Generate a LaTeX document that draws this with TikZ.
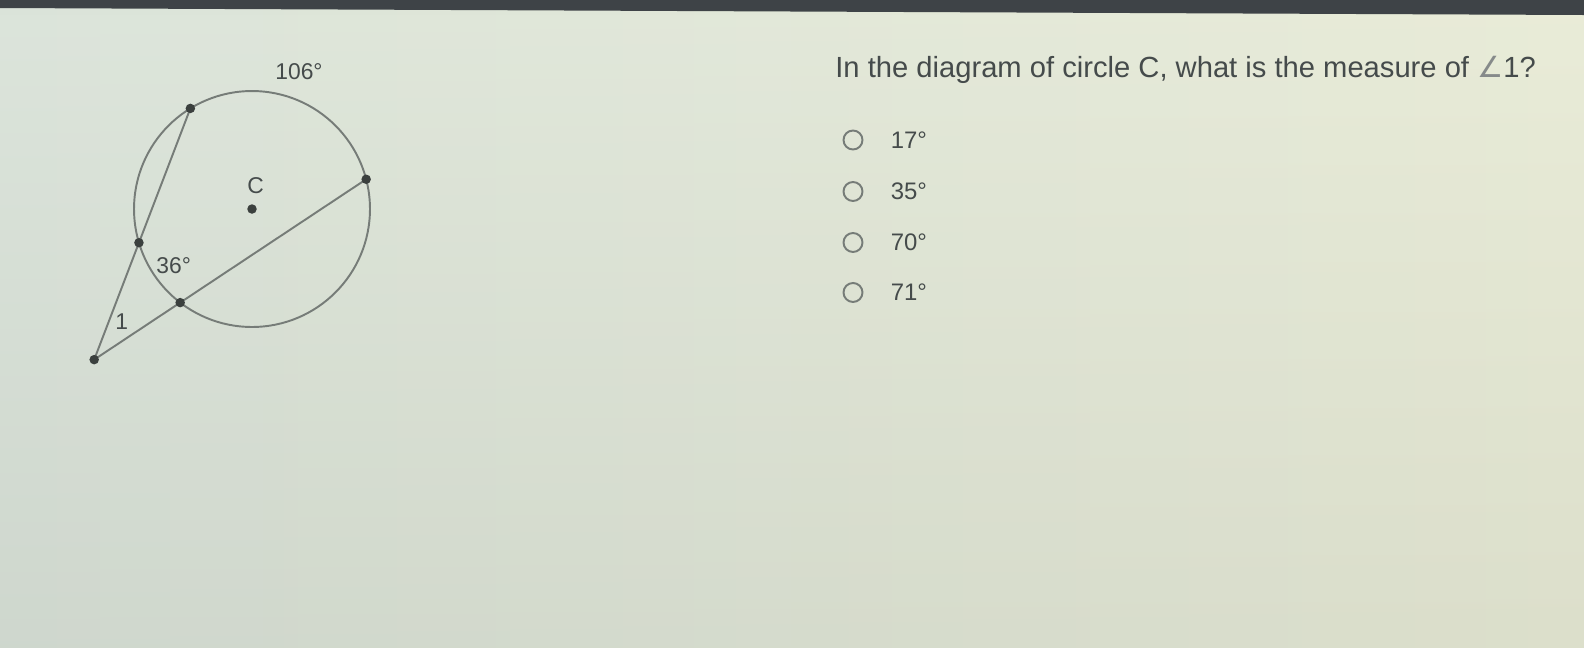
\documentclass[tikz,border=0pt]{standalone}
\usepackage{fontspec}
\setmainfont{Liberation Sans}
\newfontfamily\anglefont{DejaVu Sans}
\usetikzlibrary{positioning}
\definecolor{bgleft}{HTML}{DAE3D9}
\definecolor{bgright}{HTML}{E8EBD6}
\definecolor{bezel}{HTML}{3E4347}
\definecolor{ink}{HTML}{454B4B}
\definecolor{linegrey}{HTML}{767C78}
\definecolor{dotc}{HTML}{3B403E}
\tikzset{
	pt/.style={circle,fill=dotc,inner sep=0,minimum size=.19cm},
	chord/.style={draw=linegrey,line width=1.1pt},
	lbl/.style={inner sep=0,anchor=base west,text=ink,font=\fontsize{13}{15}\selectfont},
	radio/.style={circle,draw=linegrey,line width=1.1pt,minimum size=.38cm,inner sep=0,on grid},
	answer/.style={inner sep=0,text=ink,font=\fontsize{13.6}{16}\selectfont}}

\begin{document}
\begin{tikzpicture}[x=0.02cm,y=-0.02cm]
	\useasboundingbox (0,0) rectangle (1584,647);
	\shade[left color=bgleft,right color=bgright] (0,0) rectangle (1584,647);
	\shade[top color=white,bottom color=black,opacity=.05] (0,15) rectangle (1584,647);
	\fill[bezel] (0,0) -- (1584,0) -- (1584,15) -- (0,8) -- cycle;
	
	% circle C and its points
	\coordinate (Ctr) at (252,209);
	\coordinate (A) at ([shift={(121.5:2.36cm)}]Ctr);
	\coordinate (B) at ([shift={(14.6:2.36cm)}]Ctr);
	\coordinate (D) at ([shift={(196.6:2.36cm)}]Ctr);
	\coordinate (E) at ([shift={(232.5:2.36cm)}]Ctr);
	\coordinate (P) at (intersection of A--D and B--E);
	
	\draw[chord] (Ctr) circle[radius=2.36cm];
	\draw[chord] (P) -- (A);
	\draw[chord] (P) -- (B);
	
	\node[pt] (dC) at (Ctr) {};
	\node[pt] (dA) at (A) {};
	\node[pt] (dB) at (B) {};
	\node[pt] (dD) at (D) {};
	\node[pt] (dE) at (E) {};
	\node[pt] (dP) at (P) {};
	
	\node[lbl] (arc106) at (275,79) {106°};
	\node[lbl] (lblC) at (247,193) {C};
	\node[lbl] (arc36) at (156,273) {36°};
	\node[lbl] (ang1) at (115,329) {1};
	
	% question and choices
	\node[inner sep=0,anchor=base west,text=ink,font=\fontsize{16.6}{19}\selectfont] (question) at (835,77) {In the diagram of circle C, what is the measure of {\anglefont\color{ink!65}∠}1?};
	
	\node[radio] (r1) at (853,140) {};
	\node[radio,below=1.03cm of r1] (r2) {};
	\node[radio,below=1.02cm of r2] (r3) {};
	\node[radio,below=1.00cm of r3] (r4) {};
	
	\node[answer,right=0.54cm of r1] (a17) {17°};
	\node[answer,right=0.54cm of r2] (a35) {35°};
	\node[answer,right=0.54cm of r3] (a70) {70°};
	\node[answer,right=0.54cm of r4] (a71) {71°};
	
\end{tikzpicture}
\end{document}
